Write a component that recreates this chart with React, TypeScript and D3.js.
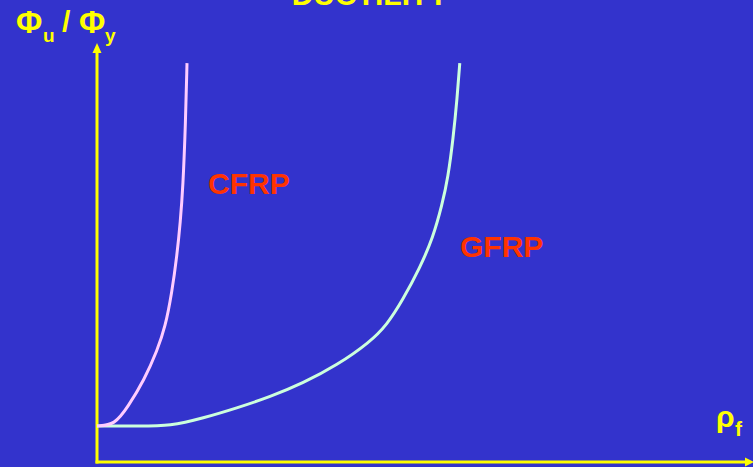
import React, { useRef, useEffect } from 'react';
import * as d3 from 'd3';

const WIDTH = 753;
const HEIGHT = 467;

// reinforcement ratio (arbitrary units) vs ductility ratio
const cfrpRho = [0, 0.27, 0.47, 0.72, 0.92, 1.04, 1.14, 1.22, 1.27, 1.31, 1.35, 1.372];
const cfrpDuct = [1.0, 1.03, 1.53, 2.28, 3.11, 3.75, 4.69, 5.75, 6.67, 7.61, 9.44, 11.08];

const gfrpRho = [0, 0.66, 1.11, 1.62, 2.13, 2.64, 3.14, 3.66, 4.16, 4.42, 4.66, 4.92, 5.12, 5.26, 5.35, 5.43, 5.49, 5.53];
const gfrpDuct = [1.0, 1.0, 1.0, 1.22, 1.5, 1.81, 2.19, 2.69, 3.33, 3.81, 4.5, 5.39, 6.22, 7.14, 7.89, 9.0, 10.11, 11.08];

const seriesNames = ['CFRP', 'GFRP'];

function App() {
  const svgRef = useRef<SVGSVGElement>(null);

  useEffect(() => {
    const svg = d3.select(svgRef.current);
    svg.selectAll('*').remove();

    const xScale = d3.scaleLinear().domain([0, 10]).range([97, 753]);
    const yScale = d3.scaleLinear().domain([0, 12]).range([462, 30]);

    svg.append('rect').attr('width', WIDTH).attr('height', HEIGHT).attr('fill', '#3333cc');

    const font = 'Liberation Sans, Arial, sans-serif';
    const yellow = '#ffff00';

    // title (cut off at top, as in the slide)
    svg
      .append('text')
      .attr('x', 370)
      .attr('y', 5)
      .attr('text-anchor', 'middle')
      .attr('font-family', font)
      .attr('font-weight', 'bold')
      .attr('font-size', 30)
      .attr('fill', yellow)
      .text('DUCTILITY');

    // axes
    svg
      .append('line')
      .attr('x1', xScale(0))
      .attr('x2', xScale(0))
      .attr('y1', yScale(0) + 1.5)
      .attr('y2', 52)
      .attr('stroke', yellow)
      .attr('stroke-width', 3);
    svg
      .append('path')
      .attr('d', `M${xScale(0) - 4.5},53 L${xScale(0)},43 L${xScale(0) + 4.5},53 Z`)
      .attr('fill', yellow);
    svg
      .append('line')
      .attr('x1', xScale(0) - 1.5)
      .attr('x2', 746)
      .attr('y1', yScale(0))
      .attr('y2', yScale(0))
      .attr('stroke', yellow)
      .attr('stroke-width', 3);
    svg
      .append('path')
      .attr('d', `M745,${yScale(0) - 4.5} L754,${yScale(0)} L745,${yScale(0) + 4.5} Z`)
      .attr('fill', yellow);

    // axis labels
    const label = (x: number, y: number, size: number, txt: string) =>
      svg
        .append('text')
        .attr('x', x)
        .attr('y', y)
        .attr('font-family', font)
        .attr('font-weight', 'bold')
        .attr('font-size', size)
        .attr('fill', yellow)
        .text(txt);
    label(16, 33, 32, 'Φ');
    label(43, 42, 19, 'u');
    label(62, 32, 30, '/');
    label(79, 33, 32, 'Φ');
    label(105, 42, 19, 'y');
    label(716, 427, 30, 'ρ');
    label(735, 436, 21, 'f');

    const line = d3
      .line<[number, number]>()
      .x((d) => xScale(d[0]))
      .y((d) => yScale(d[1]))
      .curve(d3.curveBasis);

    const curves = [
      { name: seriesNames[0], data: d3.zip(cfrpRho, cfrpDuct) as [number, number][], color: '#ffccff', lx: 208, ly: 194 },
      { name: seriesNames[1], data: d3.zip(gfrpRho, gfrpDuct) as [number, number][], color: '#ccffdd', lx: 460, ly: 257 },
    ];

    // GFRP first so CFRP sits on top at the shared start
    svg
      .selectAll('.curve')
      .data(curves.slice().reverse())
      .join('path')
      .attr('class', 'curve')
      .attr('d', (d) => line(d.data))
      .attr('fill', 'none')
      .attr('stroke', (d) => d.color)
      .attr('stroke-width', 3);

    svg
      .selectAll('.series-label')
      .data(curves)
      .join('text')
      .attr('class', 'series-label')
      .attr('x', (d) => d.lx)
      .attr('y', (d) => d.ly)
      .attr('font-family', font)
      .attr('font-weight', 'bold')
      .attr('font-size', 30)
      .attr('fill', '#ff3300')
      .text((d) => d.name);
  }, []);

  return (
    <div style={{ position: 'absolute', left: 0, top: 0 }}>
      <svg ref={svgRef} width={WIDTH} height={HEIGHT} style={{ display: 'block' }} />
    </div>
  );
}

export default App;
